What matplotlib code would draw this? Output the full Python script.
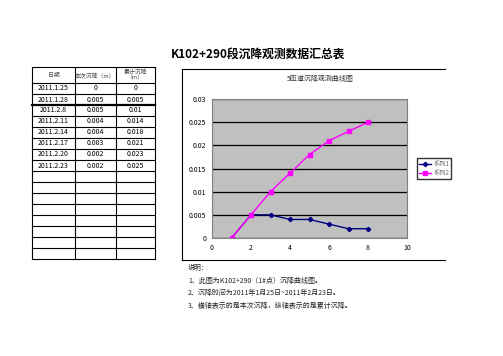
import matplotlib.pyplot as plt
from matplotlib.lines import Line2D

plt.rcParams['font.family'] = ['Noto Sans CJK SC', 'DejaVu Sans']

# data
dates = ['2011.1.25', '2011.1.28', '2011.2.8', '2011.2.11',
         '2011.2.14', '2011.2.17', '2011.2.20', '2011.2.23']
this_settle = [0, 0.005, 0.005, 0.004, 0.004, 0.003, 0.002, 0.002]
total_settle = [0, 0.005, 0.01, 0.014, 0.018, 0.021, 0.023, 0.025]
this_labels = ['0', '0.005', '0.005', '0.004', '0.004', '0.003', '0.002', '0.002']
total_labels = ['0', '0.005', '0.01', '0.014', '0.018', '0.021', '0.023', '0.025']
points = [1, 2, 3, 4, 5, 6, 7, 8]
headers = ['日期', '本次沉降（m）', '累计沉降\n（m）']
notes = ['说明：',
         '1、此图为K102+290（1#点）沉降曲线图。',
         '2、沉降时间为2011年1月25日~2011年2月23日。',
         '3、横轴表示的是本次沉降，纵轴表示的是累计沉降。']

W, H = 503, 356
fig = plt.figure(figsize=(W / 100, H / 100), dpi=100)


def fx(x):
    return x / W


def fy(y):
    return 1 - y / H


def hline(x0, x1, y, lw=0.8):
    fig.add_artist(Line2D([fx(x0), fx(x1)], [fy(y), fy(y)], color='black', lw=lw))


def vline(x, y0, y1, lw=0.8):
    fig.add_artist(Line2D([fx(x), fx(x)], [fy(y0), fy(y1)], color='black', lw=lw))


# main title
fig.text(fx(171), fy(55), 'K102+290段沉降观测数据汇总表', fontsize=8.5,
         fontweight='bold', va='center', ha='left')

# table
cols = [32, 75, 116, 155]
row_top = 67
row_h = 11
head_bottom = 83
n_rows = 16
bottom = head_bottom + n_rows * row_h
for x in cols:
    vline(x, row_top, bottom)
hline(cols[0], cols[-1], row_top)
for i in range(n_rows + 1):
    y = head_bottom + i * row_h
    hline(cols[0], cols[-1], y, lw=1.6 if i == 2 else 0.8)

for j, h in enumerate(headers):
    cx = (cols[j] + cols[j + 1]) / 2
    fig.text(fx(cx), fy((row_top + head_bottom) / 2), h, fontsize=4.2,
             ha='center', va='center', color='#444444', linespacing=1.1)

for i in range(len(dates)):
    cy = head_bottom + i * row_h + row_h / 2
    for j, s in enumerate([dates[i], this_labels[i], total_labels[i]]):
        cx = (cols[j] + cols[j + 1]) / 2
        fig.text(fx(cx), fy(cy), s, fontsize=5, ha='center', va='center')

# chart frame (right edge is cut off in the original)
hline(182, 445, 69)
hline(182, 445, 260)
vline(182, 69, 260)

fig.text(fx(320), fy(79), '5匝道沉降观测曲线图', fontsize=5, ha='center',
         va='center', color='#333333')

ax = fig.add_axes([fx(212), fy(238), fx(407) - fx(212), (238 - 99) / H])
ax.set_facecolor('#C0C0C0')
l1, = ax.plot(points, this_settle, color='#000080', marker='D', markersize=2.2,
              lw=1, label='系列1')
l2, = ax.plot(points, total_settle, color='#FF00FF', marker='s', markersize=3,
              lw=1, label='系列2')
ax.set_xlim(0, 10)
ax.set_ylim(0, 0.03)
ax.set_xticks([0, 2, 4, 6, 8, 10])
ax.set_yticks([0, 0.005, 0.01, 0.015, 0.02, 0.025, 0.03])
ax.set_yticklabels(['0', '0.005', '0.01', '0.015', '0.02', '0.025', '0.03'])
ax.yaxis.grid(True, color='black', lw=0.9)
ax.set_axisbelow(True)
ax.tick_params(labelsize=5, length=0, pad=4)
for s in ax.spines.values():
    s.set_color('#808080')
    s.set_linewidth(0.8)

fig.legend(handles=[l1, l2], loc='upper left', bbox_to_anchor=(fx(417), fy(158)),
           fontsize=4.5, frameon=True, fancybox=False, edgecolor='black',
           handlelength=2, borderpad=0.3, labelspacing=0.2, handletextpad=0.3,
           borderaxespad=0, labelcolor='#666666')

# notes
note_y = [268, 281, 293, 306]
for t, y in zip(notes, note_y):
    fig.text(fx(188), fy(y), t, fontsize=5, ha='left', va='center', color='#222222')

fig.savefig('out.png', dpi=100, facecolor='white')
